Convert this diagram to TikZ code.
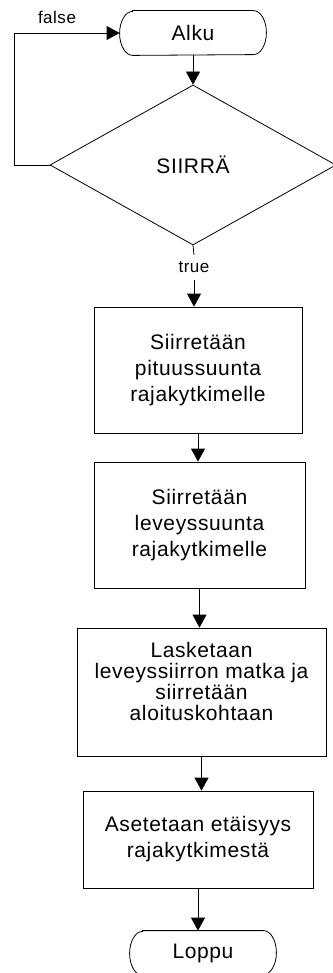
\documentclass[tikz,border=0pt]{standalone}
\usepackage{fontspec}
\setmainfont{Liberation Sans}[LetterSpace=3]
\usetikzlibrary{shapes.geometric,arrows.meta}
\begin{document}
\begin{tikzpicture}[x=1pt,y=-1pt,line width=0.8pt,
  >={Triangle[length=13pt,width=14pt]},
  box/.style={draw,rectangle,align=center,inner sep=0pt,font=\fontsize{21}{26}\selectfont},
  term/.style={rectangle,inner sep=0pt,minimum width=146pt,minimum height=44pt,font=\fontsize{21}{26}\selectfont},
  lbl/.style={inner sep=0pt,font=\fontsize{17}{20}\selectfont}]
\useasboundingbox (0,0) rectangle (332,973);
% terminators
\node[term] (alku) at (193,33) {Alku};
\draw ([xshift=13pt]alku.north west) -- ([xshift=-13pt]alku.north east)
  arc[start angle=90,end angle=-90,x radius=13pt,y radius=22pt]
  -- ([xshift=13pt]alku.south west)
  arc[start angle=270,end angle=90,x radius=13pt,y radius=22pt] -- cycle;
\node[term] (loppu) at (203,953) {Loppu};
\draw ([xshift=13pt]loppu.north west) -- ([xshift=-13pt]loppu.north east)
  arc[start angle=90,end angle=-90,x radius=13pt,y radius=22pt]
  -- ([xshift=13pt]loppu.south west)
  arc[start angle=270,end angle=90,x radius=13pt,y radius=22pt] -- cycle;
% decision
\node[diamond,draw,inner sep=0pt,minimum width=286pt,minimum height=160pt,
  font=\fontsize{21}{26}\selectfont] (d) at (193,165) {SIIRRÄ};
% process boxes
\node[box,minimum width=208pt,minimum height=126pt] (b1) at (198,370)
  {Siirretään\\pituussuunta\\rajakytkimelle};
\node[box,minimum width=211pt,minimum height=126pt] (b2) at (199.5,525)
  {Siirretään\\leveyssuunta\\rajakytkimelle};
\node[box,minimum width=249pt,minimum height=128pt,font=\fontsize{21}{21}\selectfont] (b3) at (201.5,692)
  {Lasketaan\\leveyssiirron matka ja\\siirretään\\aloituskohtaan\\\mbox{}};
\node[box,minimum width=230pt,minimum height=97pt] (b4) at (198,839.5)
  {Asetetaan etäisyys\\rajakytkimestä};
% labels
\node[lbl] (fl) at (57,17) {false};
\node[lbl] (tl) at (194,267) {true};
% connectors
\draw[->] (alku.south) -- (d.north);
\draw[->] (d.west) -- ++(-35,0) |- (alku.west);
\draw (d.south) -- ([yshift=6pt]tl.north);
\draw[->] ([yshift=-7pt]tl.south) -- (tl.south |- b1.north);
\draw[->] (b1.south) -- (b1.south |- b2.north);
\draw[->] (b2.south) -- (b2.south |- b3.north);
\draw[->] (b3.south) -- (b3.south |- b4.north);
\draw[->] (b4.south) -- (b4.south |- loppu.north);
\end{tikzpicture}
\end{document}
